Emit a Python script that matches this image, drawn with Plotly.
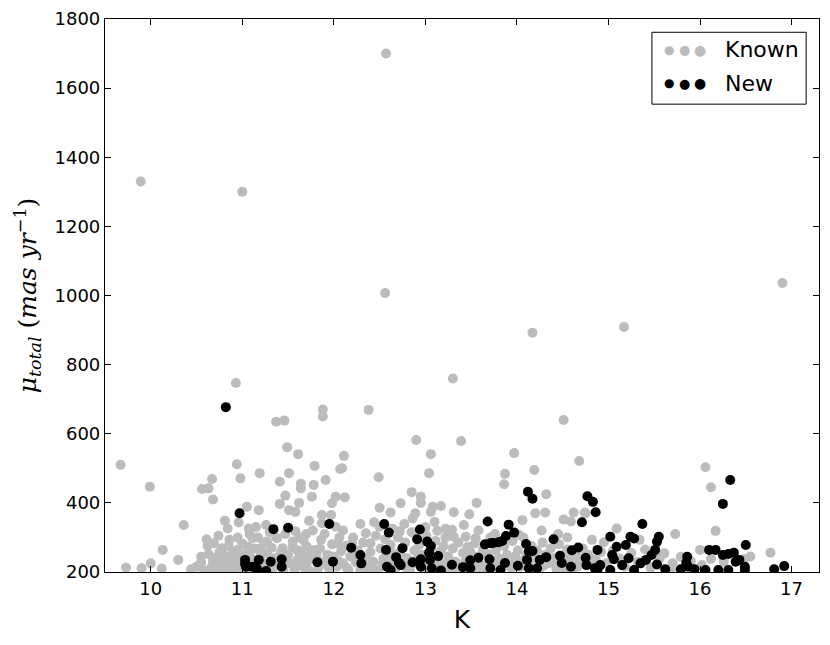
import plotly.graph_objects as go

# Known sources (grey)
known_k = [
    9.67, 9.99, 9.89, 11.00, 12.57, 12.56, 14.17, 15.17, 16.90, 13.30, 10.93, 12.38,
    11.88, 11.88, 11.37, 11.46, 14.51, 12.90, 13.39, 11.49, 11.61, 12.11, 13.06, 13.97,
    12.09, 13.04, 12.49, 13.87, 13.86, 14.19, 14.68, 16.06, 16.12, 12.12, 10.94, 11.79,
    12.07, 10.67, 10.56, 10.63, 10.98, 11.19, 11.51, 11.41, 11.64, 11.64, 11.78, 11.91,
    10.68, 11.76, 12.02, 11.98, 11.05, 11.18, 11.41, 11.47, 11.62, 11.58, 11.51, 11.73,
    11.87, 11.97, 12.02, 10.36, 10.81, 10.84, 10.96, 10.13, 10.30, 9.90, 10.12, 10.44,
    10.61, 10.69, 10.55, 10.62, 10.78, 10.86, 11.07, 11.11, 11.26, 11.27, 11.38, 11.55,
    11.67, 11.86, 11.87, 12.04, 10.95, 11.06, 11.20, 11.44, 11.64, 11.78, 10.79, 10.91,
    11.60, 11.71, 10.69, 12.85, 12.95, 12.95, 12.73, 13.08, 13.17, 13.56, 12.50, 12.62,
    13.31, 13.48, 12.89, 13.06, 14.32, 14.20, 14.31, 14.62, 14.74, 14.06, 14.51, 14.59,
    12.29, 12.44, 12.77, 12.86, 13.29, 13.42, 13.13, 13.31, 13.44, 13.54, 13.20, 12.20,
    12.40, 12.50, 14.75, 16.17, 15.09, 15.73, 14.82, 14.95, 15.34, 16.77, 15.61, 16.12,
    14.86, 15.79, 16.48, 16.26, 15.68, 16.00, 9.73, 10.00,
    # dense band
    10.50, 10.55, 10.58, 10.63, 10.66, 10.70, 10.72, 10.75, 10.77, 10.80, 10.83, 10.85,
    10.88, 10.90, 10.92, 10.95, 10.97, 11.00, 11.02, 11.05, 11.08, 11.10, 11.13, 11.15,
    11.17, 11.20, 11.22, 11.24, 11.27, 11.29, 11.32, 11.35, 11.37, 11.40, 11.42, 11.45,
    11.47, 11.50, 11.52, 11.55, 11.57, 11.60, 11.62, 11.65, 11.68, 11.70, 11.73, 11.75,
    11.77, 11.80, 11.83, 11.85, 11.88, 11.90, 11.93, 11.95, 11.98, 12.00, 12.03, 12.06,
    12.08, 12.10, 12.13, 12.16, 12.18, 12.21, 12.24, 12.26, 12.29, 12.32, 12.35, 12.37,
    12.40, 12.43, 12.46, 12.48, 12.51, 12.54, 12.56, 12.59, 12.62, 12.64, 12.67, 12.70,
    12.72, 12.75, 12.78, 12.80, 12.83, 12.85, 12.88, 12.90, 12.93, 12.96, 12.98, 13.01,
    13.04, 13.06, 13.09, 13.11, 13.14, 13.17, 13.19, 13.22, 13.25, 13.27, 13.30, 13.33,
    13.36, 13.38, 13.41, 13.44, 13.46, 13.49, 13.52, 13.55, 13.57, 13.60, 13.63, 13.66,
    13.68, 13.71, 13.74, 13.77, 13.80, 13.83, 13.86, 13.89, 13.92, 13.95, 13.98, 14.01,
    14.04, 14.07, 14.10, 14.13, 14.16, 14.19, 14.22, 14.25, 14.28, 14.31, 14.34, 14.37,
    14.40, 14.43, 14.46, 14.49, 14.52, 14.55, 14.58, 14.62, 14.65, 14.68, 14.72, 14.78,
    14.85, 14.92, 14.98, 15.05, 15.12, 15.18, 15.25, 15.32, 15.40, 15.46, 15.56, 15.70,
    15.90, 16.02, 16.55,
    10.68, 10.74, 10.86, 10.99, 11.12, 11.21, 11.33, 11.46, 11.58, 11.69, 11.81, 11.92,
    12.05, 12.14, 12.27, 12.41, 12.53, 12.66, 12.79, 12.92, 13.03, 13.13, 13.24, 13.35,
    13.47, 13.58, 13.69, 13.81, 13.94, 14.05, 14.18, 14.29, 14.41, 14.53, 14.66,
    10.74, 11.15, 11.30, 11.58, 11.70, 12.10, 12.35, 12.64, 12.72, 13.00, 13.10, 13.22,
    13.58, 13.76, 14.02, 14.27, 14.45, 14.55,
]
known_mu = [
    510, 447, 1330, 1300, 1700, 1007, 892, 909, 1036, 760, 747, 669,
    670, 650, 635, 638, 640, 582, 579, 561, 541, 536, 541, 544,
    500, 486, 474, 484, 454, 495, 521, 503, 445, 416, 512, 507,
    498, 469, 440, 442, 471, 486, 486, 461, 455, 442, 452, 466,
    410, 418, 418, 399, 389, 379, 397, 421, 400, 374, 379, 348,
    365, 365, 331, 336, 348, 326, 343, 264, 235, 211, 210, 208,
    295, 283, 244, 275, 269, 293, 326, 298, 336, 288, 298, 288,
    293, 293, 341, 283, 264, 273, 269, 269, 259, 264, 235, 235,
    235, 230, 225, 431, 418, 400, 399, 389, 391, 400, 386, 372,
    373, 367, 370, 374, 425, 370, 372, 372, 372, 350, 352, 346,
    339, 344, 339, 355, 322, 336, 319, 302, 302, 283, 275, 283,
    283, 331, 370, 319, 326, 310, 293, 286, 293, 256, 254, 238,
    237, 244, 237, 230, 208, 264, 213, 225,
    # dense band
    215, 228, 205, 252, 212, 240, 205, 258, 218, 248, 205, 275,
    222, 258, 210, 300, 245, 282, 205, 255, 310, 240, 268, 222,
    300, 248, 212, 285, 255, 215, 270, 240, 300, 222, 258, 205,
    310, 250, 225, 272, 208, 262, 300, 218, 245, 275, 205, 255,
    320, 240, 210, 268, 228, 310, 250, 208, 280, 245, 215, 300,
    260, 225, 275, 205, 245, 300, 228, 262, 205, 285, 240, 212,
    258, 230, 305, 205, 268, 238, 295, 250, 278, 232, 208, 300,
    255, 222, 285, 240, 205, 315, 262, 225, 278, 250, 208, 305,
    225, 265, 210, 290, 232, 262, 220, 300, 245, 205, 268, 230,
    285, 208, 255, 232, 272, 258, 215, 298, 245, 222, 265, 205,
    252, 300, 228, 262, 240, 210, 275, 250, 225, 290, 245, 262,
    215, 300, 248, 228, 275, 240, 262, 210, 285, 250, 225, 268,
    240, 210, 280, 248, 228, 265, 240, 212, 255, 230, 268, 250,
    230, 258, 225, 262, 240, 215, 255, 230, 265, 212, 240, 225,
    232, 220, 245,
    232, 210, 238, 218, 205, 230, 208, 232, 215, 205, 248, 222,
    232, 212, 240, 205, 222, 252, 212, 242, 205, 215, 228, 210,
    225, 205, 218, 228, 210, 232, 205, 218, 225, 205, 215,
    305, 330, 315, 318, 310, 320, 312, 325, 318, 330, 345, 325,
    320, 310, 308, 320, 310, 300,
]

# New sources (black)
new_k = [
    10.82, 10.97, 11.34, 11.50, 11.95, 12.19, 11.03, 11.04, 11.03, 11.11, 11.16, 11.18,
    11.26, 11.31, 11.43, 11.43, 11.82, 11.99, 12.29, 12.30, 12.55, 12.60, 12.57, 12.58,
    12.62, 12.68, 12.71, 12.75, 12.73, 12.86, 12.91, 12.94, 12.95, 12.95, 13.02, 13.06,
    13.04, 13.05, 13.07, 13.14, 13.17, 13.29, 13.41, 13.49, 13.49, 13.58, 13.68, 13.65,
    13.71, 13.74, 13.80, 13.84, 13.88, 13.91, 13.97, 13.70, 13.71, 13.82, 13.87, 14.01,
    14.10, 14.11, 14.13, 14.17, 14.13, 14.12, 14.17, 14.22, 14.25, 14.32, 14.40, 14.47,
    14.49, 14.59, 14.60, 14.67, 14.71, 14.77, 14.83, 14.86, 14.75, 14.76, 14.85, 14.88,
    14.91, 14.88, 15.02, 15.04, 15.06, 15.02, 15.09, 15.15, 15.19, 15.22, 15.24, 15.28,
    15.28, 15.35, 15.37, 15.41, 15.47, 15.51, 15.53, 15.55, 15.53, 15.62, 15.79, 15.86,
    15.85, 15.87, 15.94, 16.06, 16.10, 16.17, 16.20, 16.25, 16.25, 16.31, 16.31, 16.33,
    16.37, 16.39, 16.43, 16.49, 16.49, 16.50, 16.81, 16.92,
]
new_mu = [
    677, 370, 324, 328, 339, 270, 235, 215, 223, 215, 209, 235,
    203, 230, 237, 215, 228, 230, 249, 225, 339, 314, 264, 215,
    206, 243, 227, 269, 220, 228, 295, 323, 237, 215, 288, 275,
    256, 235, 211, 246, 204, 221, 214, 234, 211, 241, 346, 280,
    283, 284, 286, 290, 304, 337, 314, 237, 211, 206, 226, 218,
    281, 235, 259, 261, 211, 432, 412, 211, 235, 243, 295, 247,
    226, 215, 263, 271, 344, 419, 403, 373, 241, 220, 211, 264,
    220, 206, 302, 249, 237, 206, 273, 220, 278, 240, 302, 297,
    206, 225, 339, 235, 249, 264, 288, 302, 222, 208, 208, 244,
    227, 215, 208, 206, 264, 264, 206, 397, 249, 252, 206, 466,
    256, 230, 235, 215, 206, 278, 208, 217,
]

x_ticks = [10, 11, 12, 13, 14, 15, 16, 17]
y_ticks = [200, 400, 600, 800, 1000, 1200, 1400, 1600, 1800]

GREY = "#bcbcbc"

fig = go.Figure()
fig.add_trace(go.Scatter(
    x=known_k, y=known_mu, mode="markers", name="Known",
    marker=dict(size=10, color=GREY, line=dict(width=0)),
))
fig.add_trace(go.Scatter(
    x=new_k, y=new_mu, mode="markers", name="New",
    marker=dict(size=10, color="black", line=dict(width=0)),
))

axis_common = dict(
    showgrid=False, zeroline=False, showline=True, linecolor="black", linewidth=1.2,
    mirror="ticks", ticks="inside", ticklen=6, tickwidth=1, tickcolor="black",
    tickfont=dict(family="DejaVu Sans", size=18, color="black"), automargin=False,
)
fig.update_xaxes(
    range=[9.5, 17.3], tickvals=x_ticks,
    title=dict(text="K", font=dict(family="DejaVu Sans", size=25, color="black"), standoff=12),
    **axis_common,
)
fig.update_yaxes(
    range=[200, 1800], tickvals=y_ticks,
    title=dict(
        text="<i>μ<sub>total</sub></i> (<i>mas yr</i><sup>−1</sup>)",
        font=dict(family="DejaVu Serif", size=25, color="black"), standoff=10,
    ),
    **axis_common,
)

# matplotlib-style legend box
fig.add_shape(type="rect", xref="paper", yref="paper", x0=0.766, x1=0.982, y0=0.846, y1=0.976,
              line=dict(color="black", width=1), fillcolor="white", layer="above")
for row_y, col, label in [(0.944, GREY, "Known"), (0.884, "black", "New")]:
    for dx, fs in [(0.790, 12), (0.811, 13), (0.833, 14)]:
        fig.add_annotation(x=dx, y=row_y, xref="paper", yref="paper", text="●", showarrow=False,
                           xanchor="center", yanchor="middle",
                           font=dict(size=fs, color=col, family="DejaVu Sans"))
    fig.add_annotation(x=0.866, y=row_y, xref="paper", yref="paper", text=label, showarrow=False,
                       xanchor="left", yanchor="middle",
                       font=dict(size=22, color="black", family="DejaVu Sans"))

# page body has an 8px margin, so the figure is shrunk to fit the window
fig.update_layout(
    width=814, height=629,
    margin=dict(l=97, r=3, t=11, b=65),
    plot_bgcolor="white", paper_bgcolor="white",
    showlegend=False,
)

fig.write_html("out.html")
